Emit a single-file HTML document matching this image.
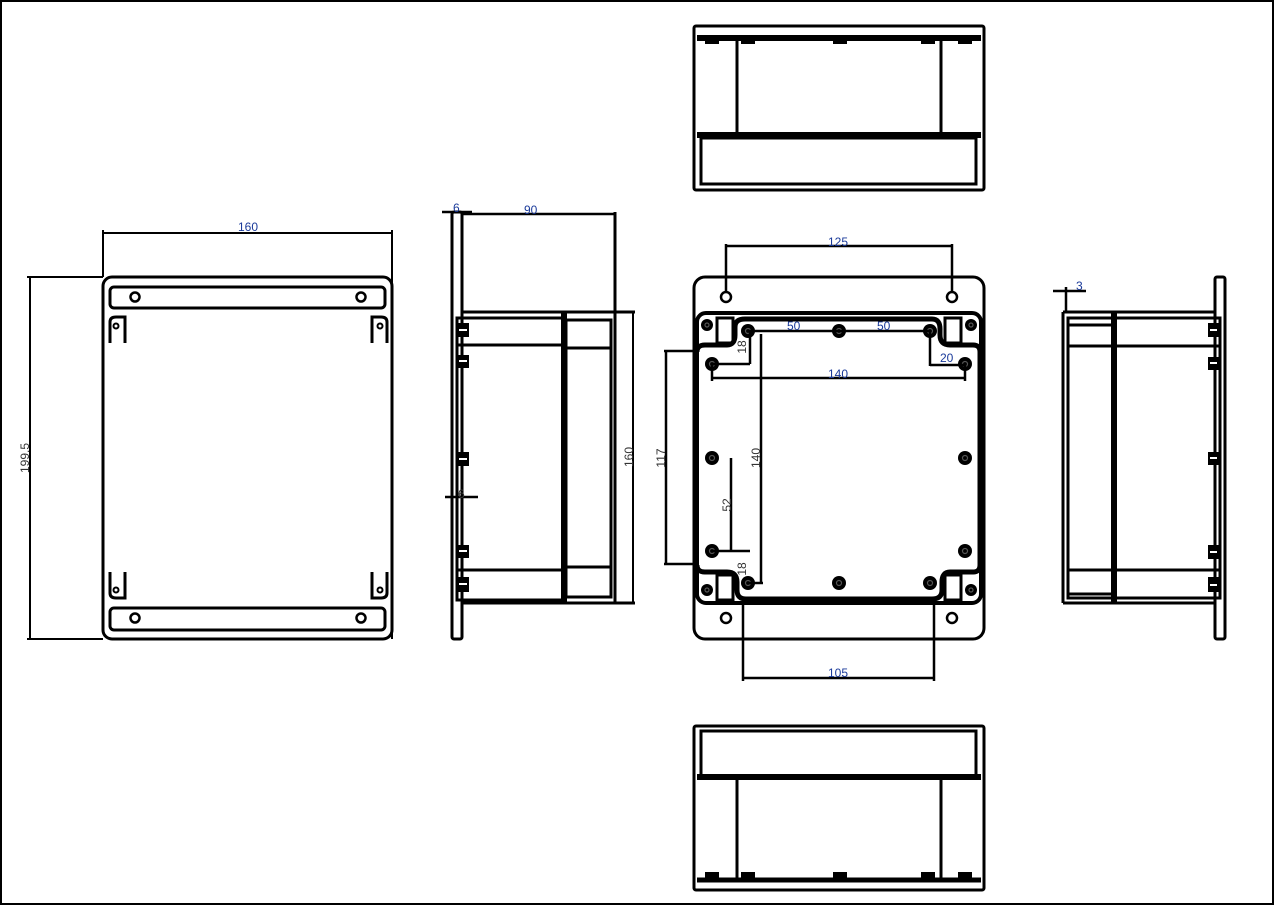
<!DOCTYPE html>
<html><head><meta charset="utf-8"><style>
html,body{margin:0;padding:0;background:#fff}
svg{display:block}
text{font-family:"Liberation Sans",sans-serif;font-size:12px}
</style></head><body>
<svg width="1274" height="905" viewBox="0 0 1274 905" xmlns="http://www.w3.org/2000/svg">
<rect x="1" y="1" width="1272" height="903" fill="#fff" stroke="#000" stroke-width="2"/>
<g fill="none" stroke="#000" stroke-width="3">
<!-- LEFT FRONT VIEW -->
<rect x="103" y="277" width="289" height="362" rx="9"/>
<rect x="110" y="287" width="275" height="21" rx="4"/>
<rect x="110" y="608" width="275" height="22" rx="4"/>
<circle cx="135" cy="297" r="4.5" stroke-width="2.5"/><circle cx="361" cy="297" r="4.5" stroke-width="2.5"/>
<circle cx="135" cy="618" r="4.5" stroke-width="2.5"/><circle cx="361" cy="618" r="4.5" stroke-width="2.5"/>
<path d="M110,343 V322 Q110,317 116,317 H125 V343"/><path d="M387,343 V322 Q387,317 381,317 H372 V343"/>
<path d="M110,572 V593 Q110,598 116,598 H125 V572"/><path d="M387,572 V593 Q387,598 381,598 H372 V572"/>
<circle cx="116" cy="326" r="2.5" stroke-width="2"/><circle cx="380" cy="326" r="2.5" stroke-width="2"/>
<circle cx="116" cy="590" r="2.5" stroke-width="2"/><circle cx="380" cy="590" r="2.5" stroke-width="2"/>
<path d="M103,233 H392 M103,230 V277 M392,230 V639" stroke-width="2"/>
<path d="M30,277 V639 M27,277 H103 M27,639 H103" stroke-width="2"/>

<!-- SIDE VIEW LEFT -->
<rect x="452" y="212" width="10" height="427" rx="2"/>
<path d="M462,312 H635 M462,603 H635"/>
<rect x="457" y="318" width="106" height="282"/>
<path d="M564,312 V604" stroke-width="6"/>
<rect x="566" y="320" width="45" height="277"/>
<path d="M566,348 H611 M566,567 H611"/>
<path d="M457,345 H563 M457,570 H563"/>
<path d="M615,212 V604"/>
<path d="M633,312 V604" stroke-width="2"/>
<path d="M462,214 H615" stroke-width="2.5"/>
<path d="M442,212 H472 M445,497 H478" stroke-width="2.5"/>
<g fill="#000" stroke="none">
<rect x="457" y="323" width="12" height="14"/><rect x="457" y="355" width="12" height="13"/><rect x="457" y="452" width="12" height="14"/><rect x="457" y="545" width="12" height="13"/><rect x="457" y="577" width="12" height="15"/>
</g>
<g stroke="#fff" stroke-width="2"><path d="M459,330 H467 M459,361 H467 M459,459 H467 M459,551 H467 M459,584 H467"/></g>

<!-- TOP VIEW -->
<rect x="694" y="26" width="290" height="164" rx="2"/>
<path d="M697,38 H981" stroke-width="6"/>
<path d="M697,135 H981" stroke-width="6"/>
<path d="M737,40 V135 M941,40 V135"/>
<rect x="701" y="138" width="275" height="46"/>
<!-- BOTTOM VIEW -->
<rect x="694" y="726" width="290" height="164" rx="2"/>
<path d="M697,777 H981" stroke-width="6"/>
<path d="M697,880 H981" stroke-width="5"/>
<path d="M737,777 V878 M941,777 V878"/>
<rect x="701" y="731" width="275" height="45"/>
<g fill="#000" stroke="none">
<rect x="705" y="36" width="14" height="8"/><rect x="741" y="36" width="14" height="8"/><rect x="833" y="36" width="14" height="8"/><rect x="921" y="36" width="14" height="8"/><rect x="958" y="36" width="14" height="8"/>
<rect x="705" y="872" width="14" height="8"/><rect x="741" y="872" width="14" height="8"/><rect x="833" y="872" width="14" height="8"/><rect x="921" y="872" width="14" height="8"/><rect x="958" y="872" width="14" height="8"/>
</g>

<!-- PLAN VIEW -->
<rect x="694" y="277" width="290" height="362" rx="11"/>
<rect x="697" y="313" width="284" height="290" rx="9" stroke-width="4"/>
<path d="M697,352 Q697,345 705,345 H727 Q735,345 735,335 V327 Q735,319 745,319 H932 Q940,319 940,329 V335 Q940,345 950,345 H973 Q980,345 980,352 V565 Q980,572 973,572 H950 Q942,572 942,582 V590 Q942,599 932,599 H746 Q737,599 737,590 V582 Q737,572 727,572 H705 Q697,572 697,565" stroke-width="5"/>
<rect x="717" y="318" width="16" height="25"/><rect x="945" y="318" width="16" height="25"/>
<rect x="717" y="575" width="16" height="25"/><rect x="945" y="575" width="16" height="25"/>
<circle cx="726" cy="297" r="5" stroke-width="2.5"/><circle cx="952" cy="297" r="5" stroke-width="2.5"/>
<circle cx="726" cy="618" r="5" stroke-width="2.5"/><circle cx="952" cy="618" r="5" stroke-width="2.5"/>
<g fill="#000" stroke="none">
<circle cx="707" cy="325" r="6"/><circle cx="971" cy="325" r="6"/><circle cx="707" cy="590" r="6"/><circle cx="971" cy="590" r="6"/>
<circle cx="748" cy="331" r="7"/><circle cx="839" cy="331" r="7"/><circle cx="930" cy="331" r="7"/>
<circle cx="712" cy="364" r="7"/><circle cx="965" cy="364" r="7"/>
<circle cx="712" cy="458" r="7"/><circle cx="965" cy="458" r="7"/>
<circle cx="712" cy="551" r="7"/><circle cx="965" cy="551" r="7"/>
<circle cx="748" cy="583" r="7"/><circle cx="839" cy="583" r="7"/><circle cx="930" cy="583" r="7"/>
</g>
<g stroke="#555" stroke-width="1.2">
<circle cx="707" cy="325" r="2"/><circle cx="971" cy="325" r="2"/><circle cx="707" cy="590" r="2"/><circle cx="971" cy="590" r="2"/>
<circle cx="748" cy="331" r="2.5"/><circle cx="839" cy="331" r="2.5"/><circle cx="930" cy="331" r="2.5"/><circle cx="712" cy="364" r="2.5"/><circle cx="965" cy="364" r="2.5"/><circle cx="712" cy="458" r="2.5"/><circle cx="965" cy="458" r="2.5"/><circle cx="712" cy="551" r="2.5"/><circle cx="965" cy="551" r="2.5"/><circle cx="748" cy="583" r="2.5"/><circle cx="839" cy="583" r="2.5"/><circle cx="930" cy="583" r="2.5"/>
</g>
<g stroke-width="2.5">
<path d="M726,246 H952 M726,244 V292 M952,244 V292"/>
<path d="M748,331 H930"/>
<path d="M750,331 V364 M712,364 H750"/>
<path d="M712,364 V381 M965,364 V381 M712,378 H965"/>
<path d="M930,331 V366 M930,365 H965"/>
<path d="M761,334 V583 M748,583 H763"/>
<path d="M666,351 V564 M664,351 H697 M664,564 H697"/>
<path d="M731,458 V551 M712,551 H750"/>
<path d="M743,600 V681 M934,600 V681 M743,678 H934"/>
</g>

<!-- RIGHT SIDE VIEW -->
<rect x="1215" y="277" width="10" height="362" rx="2"/>
<path d="M1063,312 H1215 M1063,603 H1215 M1063,312 V603"/>
<rect x="1068" y="318" width="152" height="280"/>
<path d="M1114,312 V604" stroke-width="6"/>
<path d="M1068,346 H1220 M1068,570 H1220 M1068,325 H1114 M1068,594 H1114"/>
<path d="M1053,291 H1086 M1066,287 V312" stroke-width="2.5"/>
<g fill="#000" stroke="none">
<rect x="1208" y="323" width="11" height="14"/><rect x="1208" y="357" width="11" height="13"/><rect x="1208" y="452" width="11" height="13"/><rect x="1208" y="545" width="11" height="14"/><rect x="1208" y="577" width="11" height="15"/>
</g>
<g stroke="#fff" stroke-width="2"><path d="M1210,330 H1217 M1210,363 H1217 M1210,458 H1217 M1210,552 H1217 M1210,585 H1217"/></g>
</g>

<!-- LABELS -->
<g fill="#1a3a9a">
<text x="238" y="231">160</text>
<text x="524" y="214">90</text>
<text x="828" y="246">125</text>
<text x="787" y="330">50</text>
<text x="877" y="330">50</text>
<text x="828" y="378">140</text>
<text x="940" y="362">20</text>
<text x="828" y="677">105</text>
<text x="1076" y="290">3</text>
<text x="453" y="212">6</text>
</g>
<g fill="#333">
<text transform="translate(29,458) rotate(-90)" text-anchor="middle">199.5</text>
<text transform="translate(633,457) rotate(-90)" text-anchor="middle">160</text>
<text transform="translate(665,458) rotate(-90)" text-anchor="middle">117</text>
<text transform="translate(760,458) rotate(-90)" text-anchor="middle">140</text>
<text transform="translate(731,505) rotate(-90)" text-anchor="middle">52</text>
<text transform="translate(746,347) rotate(-90)" text-anchor="middle">18</text>
<text transform="translate(746,569) rotate(-90)" text-anchor="middle">18</text>
<text x="458" y="498">6</text>
</g>
</svg>
</body></html>
